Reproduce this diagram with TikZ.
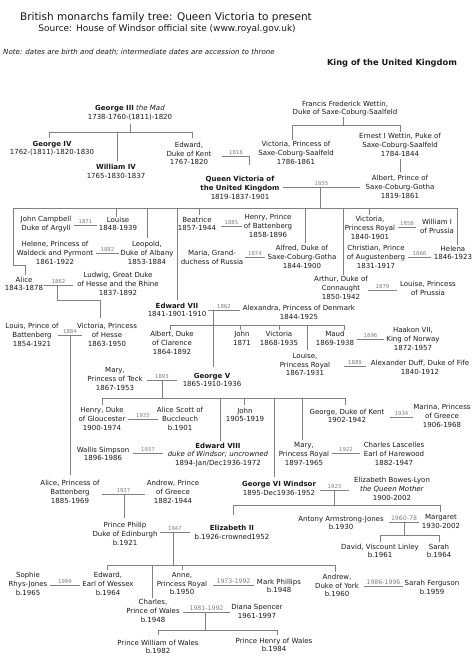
\documentclass[tikz,border=0pt]{standalone}
\usepackage{fontspec}
\setmainfont{DejaVu Sans}
\newcommand{\fp}{\fontsize{7}{8.7}\selectfont}
\newcommand{\fyr}{\fontsize{5.4}{6}\selectfont}
\newcommand{\fyrr}{\fontsize{6.2}{7}\selectfont}
\newcommand{\mar}[5]{\draw[ln] (#2,#4) -- node[yr] (#1) {#5} (#3,#4);}
\newcommand{\marr}[5]{\draw[ln] (#2,#4) -- node[yr,font=\fyrr] (#1) {#5} (#3,#4);}
\tikzset{
  per/.style={font=\fp, align=center, inner sep=0pt, text=black!90},
  ln/.style={draw=black!50, line width=0.6pt},
  yr/.style={font=\fyr, text=black!50, inner sep=0pt, above=1pt}
}
\begin{document}
\begin{tikzpicture}[x=1pt,y=-1pt]
\useasboundingbox (0,0) rectangle (474,670);
\fill[white] (0,0) rectangle (474,670);
% header
\node[per,font=\fontsize{10.5}{12}\selectfont] (title) at (166,18) {British monarchs family tree: Queen Victoria to present};
\node[per,font=\fontsize{9}{11}\selectfont] (source) at (167,29) {Source: House of Windsor official site (www.royal.gov.uk)};
\node[per,anchor=west,font=\fontsize{7.1}{8}\selectfont\itshape] (note) at (3,52) {Note: dates are birth and death; intermediate dates are accession to throne};
\node[per,font=\fontsize{8.3}{9}\selectfont\bfseries] (king) at (392,63) {King of the United Kingdom};
% generation 1
\node[per] (g3) at (130,112.5) {\textbf{George III} \textit{the Mad}\\1738-1760-(1811)-1820};
\node[per] (ffw) at (345,108.5) {Francis Frederick Wettin,\\Duke of Saxe-Coburg-Saalfeld};
\node[per] (g4) at (52,148.5) {\textbf{George IV}\\1762-(1811)-1820-1830};
\node[per] (w4) at (116,171.5) {\textbf{William IV}\\1765-1830-1837};
\node[per] (ekent) at (189,153.5) {Edward,\\Duke of Kent\\1767-1820};
\node[per] (vsax) at (296,153) {Victoria, Princess of\\Saxe-Coburg-Saalfeld\\1786-1861};
\node[per] (ernest) at (400,145) {Ernest I Wettin, Puke of\\Saxe-Coburg-Saalfeld\\1784-1844};
\node[per] (qv) at (240,188) {\textbf{Queen Victoria of}\\\textbf{the United Kingdom}\\1819-1837-1901};
\node[per] (albert) at (400,187) {Albert, Prince of\\Saxe-Coburg-Gotha\\1819-1861};
\draw[ln] (130,124) -- (130,132);
\draw[ln] (49,138) -- (49,132) -- (192,132) -- (192,138);
\draw[ln] (117,132) -- (117,161);
\draw[ln] (343,117) -- (343,125);
\draw[ln] (292,140) -- (292,125) -- (400,125) -- (400,132);
\mar{y1818}{222}{250}{156}{1818}
\draw[ln] (249,156) -- (249,165);
\draw[ln] (400,159) -- (400,172);
\mar{y1835}{283}{360}{187}{1835}
\draw[ln] (320,187) -- (320,208);
% Victoria's children
\draw[ln] (13,208) -- (457,208);
\draw[ln] (13,208) -- (13,265) -- (25,265) -- (25,275);
\draw[ln] (116,208) -- (116,217);
\draw[ln] (147,208) -- (147,238);
\draw[ln] (177,208) -- (177,300);
\draw[ln] (199,208) -- (199,215);
\draw[ln] (305,208) -- (305,243);
\draw[ln] (343,208) -- (343,275);
\draw[ln] (369,208) -- (369,215);
\draw[ln] (457,208) -- (457,245);
\node[per] (jcamp) at (46,224) {John Campbell\\Duke of Argyll};
\mar{y1871}{74}{97}{225}{1871}
\node[per] (louise) at (118,224) {Louise\\1848-1939};
\node[per] (helene) at (55,253) {Helene, Princess of\\Waldeck and Pyrmont\\1861-1922};
\mar{y1882}{96}{119}{253}{1882}
\node[per] (leopold) at (147,253) {Leopold,\\Duke of Albany\\1853-1884};
\node[per] (alice) at (24,284) {Alice\\1843-1878};
\mar{y1862a}{44}{73}{285}{1862}
\node[per] (ludwig) at (118,284) {Ludwig, Great Duke\\of Hesse and the Rhine\\1837-1892};
\draw[ln] (57,285) -- (57,300) -- (100,300) -- (100,318);
\node[per] (beatrice) at (197,224) {Beatrice\\1857-1944};
\mar{y1885}{221}{242}{226}{1885}
\node[per] (henryb) at (268,226) {Henry, Prince\\of Battenberg\\1858-1896};
\node[per] (maria) at (212,257.5) {Maria, Grand-\\duchess of Russia};
\mar{y1874}{245}{265}{257}{1874}
\node[per] (alfred) at (302,257) {Alfred, Duke of\\Saxe-Coburg-Gotha\\1844-1900};
\node[per] (vicpr) at (370,228) {Victoria,\\Princess Royal\\1840-1901};
\mar{y1858}{398}{416}{227}{1858}
\node[per] (william1) at (437,226.5) {William I\\of Prussia};
\node[per] (christian) at (376,257) {Christian, Prince\\of Augustenberg\\1831-1917};
\mar{y1866}{408}{431}{257}{1866}
\node[per] (helena) at (453,253) {Helena\\1846-1923};
\node[per] (arthur) at (341,288) {Arthur, Duke of\\Connaught\\1850-1942};
\mar{y1879}{368}{397}{290}{1879}
\node[per] (louisep) at (428,288.5) {Louise, Princess\\of Prussia};
% Edward VII
\node[per] (edw7) at (177,310) {\textbf{Edward VII}\\1841-1901-1910};
\mar{y1862b}{208}{240}{310}{1862}
\node[per] (alexandra) at (299,312.5) {Alexandra, Princess of Denmark\\1844-1925};
\draw[ln] (213,310) -- (213,367);
\draw[ln] (170,330) -- (170,325) -- (344,325) -- (344,330);
\draw[ln] (240,325) -- (240,330);
\draw[ln] (279,325) -- (279,330);
\draw[ln] (307,325) -- (307,350);
\node[per] (albertc) at (172,343) {Albert, Duke\\of Clarence\\1864-1892};
\node[per] (john1) at (242,338.5) {John\\1871};
\node[per] (victoria2) at (279,338.5) {Victoria\\1868-1935};
\node[per] (maud) at (335,338.5) {Maud\\1869-1938};
\mar{y1896}{357}{384}{339}{1896}
\node[per] (haakon) at (413,339) {Haakon VII,\\King of Norway\\1872-1957};
\node[per] (louisepr) at (305,364.5) {Louise,\\Princess Royal\\1867-1931};
\mar{y1889}{344}{366}{366}{1889}
\node[per] (duff) at (420,367.5) {Alexander Duff, Duke of Fife\\1840-1912};
\node[per] (louis) at (32,335) {Louis, Prince of\\Battenberg\\1854-1921};
\mar{y1884}{58}{82}{335}{1884}
\node[per] (vhesse) at (107,335) {Victoria, Princess\\of Hesse\\1863-1950};
\draw[ln] (70,335) -- (70,475);
% George V
\node[per] (maryteck) at (115,379) {Mary,\\Princess of Teck\\1867-1953};
\mar{y1893}{147}{177}{380}{1893}
\node[per] (georgev) at (212,380) {\textbf{George V}\\1865-1910-1936};
\draw[ln] (162,380) -- (162,398);
\draw[ln] (102,405) -- (102,398) -- (345,398) -- (345,405);
\draw[ln] (220,398) -- (220,441);
\draw[ln] (244,398) -- (244,405);
\draw[ln] (274,398) -- (274,477);
\draw[ln] (302,398) -- (302,440);
\node[per] (henryg) at (102,419) {Henry, Duke\\of Gloucester\\1900-1974};
\mar{y1935}{128}{158}{419}{1935}
\node[per] (alicescott) at (180,419) {Alice Scott of\\Buccleuch\\b.1901};
\node[per] (john2) at (245,415) {John\\1905-1919};
\node[per] (gkent) at (347,416) {George, Duke of Kent\\1902-1942};
\mar{y1934}{390}{413}{417}{1934}
\node[per] (marina) at (442,416) {Marina, Princess\\of Greece\\1906-1968};
\node[per] (wallis) at (103,454) {Wallis Simpson\\1896-1986};
\mar{y1937a}{133}{163}{453}{1937}
\node[per] (edw8) at (218,455) {\textbf{Edward VIII}\\\textit{duke of Windsor; uncrowned}\\1894-Jan/Dec1936-1972};
\node[per] (marypr) at (304,454) {Mary,\\Princess Royal\\1897-1965};
\mar{y1922}{332}{360}{453}{1922}
\node[per] (lascelles) at (394,454) {Charles Lascelles\\Earl of Harewood\\1882-1947};
% George VI
\node[per] (alicebat) at (70,492) {Alice, Princess of\\Battenberg\\1885-1969};
\mar{y1937b}{102}{145}{494}{1937}
\node[per] (andrewg) at (173,492) {Andrew, Prince\\of Greece\\1882-1944};
\draw[ln] (124,494) -- (124,518);
\node[per] (georgevi) at (279,488.5) {\textbf{George VI Windsor}\\1895-Dec1936-1952};
\mar{y1923}{320}{349}{490}{1923}
\node[per] (ebl) at (392,489) {Elizabeth Bowes-Lyon\\\textit{the Queen Mother}\\1900-2002};
\draw[ln] (334,490) -- (334,505);
\draw[ln] (233,515) -- (233,505) -- (440,505) -- (440,512);
\node[per] (philip) at (125,534) {Prince Philip\\Duke of Edinburgh\\b.1921};
\mar{y1947}{160}{190}{532}{1947}
\node[per] (eliz2) at (232,532.5) {\textbf{Elizabeth II}\\b.1926-crowned1952};
\node[per] (armstrong) at (341,523) {Antony Armstrong-Jones\\b.1930};
\marr{y1960}{389}{419}{522}{1960-78}
\node[per] (margaret) at (441,521.5) {Margaret\\1930-2002};
\draw[ln] (404,522) -- (404,535);
\draw[ln] (380,542) -- (380,535) -- (439,535) -- (439,542);
\node[per] (linley) at (380,551) {David, Viscount Linley\\b.1961};
\node[per] (sarah) at (439,551) {Sarah\\b.1964};
% Elizabeth II's children
\draw[ln] (173,532) -- (173,565);
\draw[ln] (107,570) -- (107,565) -- (335,565) -- (335,572);
\draw[ln] (152,565) -- (152,598);
\draw[ln] (182,565) -- (182,570);
\node[per] (sophie) at (28,584) {Sophie\\Rhys-Jones\\b.1965};
\mar{y1999}{50}{80}{585}{1999}
\node[per] (edwardw) at (108,584) {Edward,\\Earl of Wessex\\b.1964};
\node[per] (anne) at (182,583.5) {Anne,\\Princess Royal\\b.1950};
\marr{y1973}{213}{254}{585}{1973-1992}
\node[per] (phillips) at (279,586) {Mark Phillips\\b.1948};
\node[per] (andrew) at (337,585.5) {Andrew,\\Duke of York\\b.1960};
\marr{y1986}{364}{403}{586}{1986-1996}
\node[per] (fergie) at (432,587.5) {Sarah Ferguson\\b.1959};
\node[per] (charles) at (153,611) {Charles,\\Prince of Wales\\b.1948};
\marr{y1981}{183}{230}{612}{1981-1992}
\node[per] (diana) at (257,611.5) {Diana Spencer\\1961-1997};
\draw[ln] (205,612) -- (205,630);
\draw[ln] (158,635) -- (158,630) -- (277,630) -- (277,635);
\node[per] (william) at (158,647) {Prince William of Wales\\b.1982};
\node[per] (harry) at (274,645) {Prince Henry of Wales\\b.1984};
\end{tikzpicture}
\end{document}
